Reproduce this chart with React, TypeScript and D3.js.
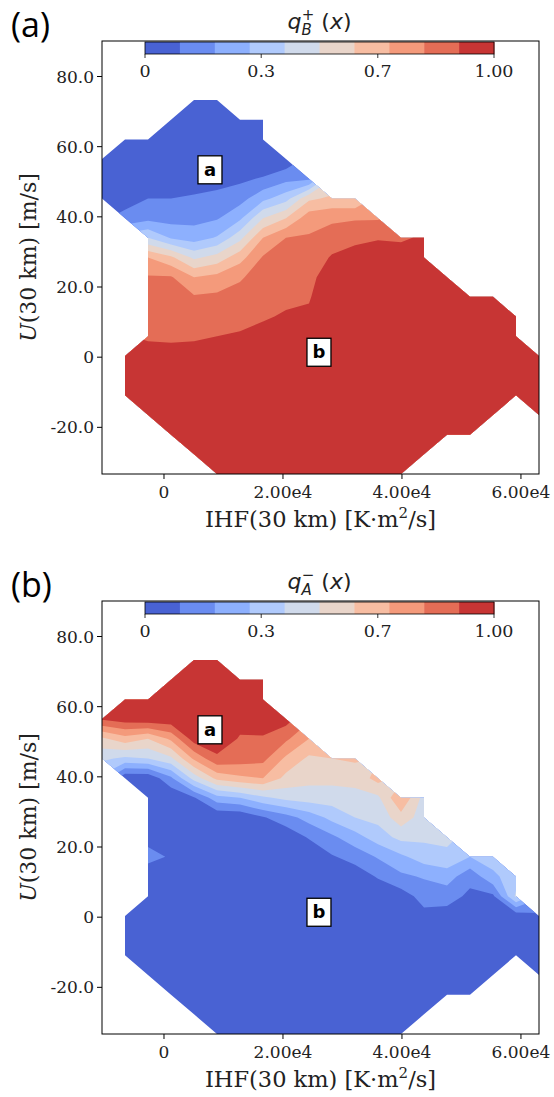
import React from 'react';
import * as d3 from 'd3';

const _ = null;

// IHF(30 km) grid columns [K·m²/s]
const ihf = [-10420, -6554, -2688, 1178, 5044, 8910, 12776, 16642, 20508, 24374, 28240, 32106, 35972, 39838, 43704, 47570, 51436, 55302, 59168, 63034];
// U(30 km) grid rows [m/s], top row first
const uRows = [90.12, 84.51, 78.9, 73.29, 67.68, 62.07, 56.46, 50.85, 45.24, 39.63, 34.02, 28.41, 22.8, 17.19, 11.58, 5.97, 0.36, -5.25, -10.86, -16.47, -22.08, -27.69, -33.3];

// q_B^+(x) on the grid (null = no data), rows top to bottom
const qBplus: (number | null)[][] = [
  [_, _, _, _, _, _, _, _, _, _, _, _, _, _, _, _, _, _, _, _],
  [_, _, _, _, _, _, _, _, _, _, _, _, _, _, _, _, _, _, _, _],
  [_, _, _, _, _, _, _, _, _, _, _, _, _, _, _, _, _, _, _, _],
  [_, _, _, _, .01, .01, _, _, _, _, _, _, _, _, _, _, _, _, _, _],
  [_, _, _, .01, .01, .01, .01, .01, _, _, _, _, _, _, _, _, _, _, _, _],
  [_, .01, .01, .01, .01, .01, .01, .01, _, _, _, _, _, _, _, _, _, _, _, _],
  [.01, .01, .01, .01, .01, .01, .01, .01, .03, _, _, _, _, _, _, _, _, _, _, _],
  [.02, .02, .03, .04, .06, .06, .08, .11, .17, .18, _, _, _, _, _, _, _, _, _, _],
  [.07, .06, .10, .10, .11, .13, .16, .27, .36, .58, .62, .61, _, _, _, _, _, _, _, _],
  [_, .13, .17, .16, .17, .19, .28, .50, .60, .76, .78, .79, .79, _, _, _, _, _, _, _],
  [_, _, .40, .29, .25, .31, .47, .70, .80, .81, .85, .87, .89, .88, .92, _, _, _, _, _],
  [_, _, .70, .62, .48, .54, .66, .81, .83, .84, .91, .95, .97, .97, .97, _, _, _, _, _],
  [_, _, .81, .81, .70, .73, .79, .84, .86, .87, .96, .99, .99, .99, .99, .98, _, _, _, _],
  [_, _, .84, .83, .81, .82, .83, .87, .88, .89, .99, .99, .99, .99, .99, .99, .99, .99, _, _],
  [_, _, .87, .86, .85, .86, .87, .89, .91, .92, .99, .99, .99, .99, .99, .99, .99, .99, .99, _],
  [_, _, .89, .89, .89, .90, .91, .93, .94, .94, .99, .99, .99, .99, .99, .99, .99, .99, .99, _],
  [_, .93, .93, .92, .93, .94, .94, .95, .97, .97, .99, .99, .99, .99, .99, .99, .99, .99, .99, .99],
  [_, .95, .95, .95, .97, .98, .98, .98, .99, .99, .99, .99, .99, .99, .99, .99, .99, .99, .99, .99],
  [_, .98, .98, .98, .99, .99, .99, .99, .99, .99, .99, .99, .99, .99, .99, .99, .99, .99, .99, .99],
  [_, _, .99, .99, .99, .99, .99, .99, .99, .99, .99, .99, .99, .99, .99, .99, .99, .99, _, .99],
  [_, _, _, .99, .99, .99, .99, .99, .99, .99, .99, .99, .99, .99, .99, .99, .99, _, _, _],
  [_, _, _, _, .99, .99, .99, .99, .99, .99, .99, .99, .99, .99, .99, _, _, _, _, _],
  [_, _, _, _, _, .99, .99, .99, .99, .99, .99, .99, .99, .99, _, _, _, _, _, _],
];

// q_A^-(x) on the grid (null = no data), rows top to bottom
const qAminus: (number | null)[][] = [
  [_, _, _, _, _, _, _, _, _, _, _, _, _, _, _, _, _, _, _, _],
  [_, _, _, _, _, _, _, _, _, _, _, _, _, _, _, _, _, _, _, _],
  [_, _, _, _, _, _, _, _, _, _, _, _, _, _, _, _, _, _, _, _],
  [_, _, _, _, .98, .98, _, _, _, _, _, _, _, _, _, _, _, _, _, _],
  [_, _, _, .97, .98, .98, .98, .98, _, _, _, _, _, _, _, _, _, _, _, _],
  [_, .97, .97, .97, .98, .98, .98, .98, _, _, _, _, _, _, _, _, _, _, _, _],
  [.91, .95, .97, .97, .97, .98, .94, .95, .94, _, _, _, _, _, _, _, _, _, _, _],
  [.58, .66, .60, .72, .95, .97, .89, .89, .82, .70, _, _, _, _, _, _, _, _, _, _],
  [.42, .38, .40, .48, .72, .88, .85, .83, .68, .58, .60, .62, _, _, _, _, _, _, _, _],
  [_, .02, .02, .18, .44, .63, .68, .70, .57, .53, .53, .53, .64, _, _, _, _, _, _, _],
  [_, _, .01, .01, .09, .26, .30, .38, .43, .45, .45, .47, .48, .70, .46, _, _, _, _, _],
  [_, _, .01, .01, .01, .01, .01, .09, .16, .24, .33, .40, .43, .56, .45, _, _, _, _, _],
  [_, _, .07, .02, .01, .01, .01, .01, .03, .11, .18, .26, .35, .43, .42, .43, _, _, _, _],
  [_, _, .13, .09, .01, .01, .01, .01, .01, .02, .09, .14, .21, .28, .35, .37, .30, .34, _, _],
  [_, _, .04, .02, .01, .01, .01, .01, .01, .01, .01, .04, .11, .18, .21, .25, .13, .28, .35, _],
  [_, _, .01, .01, .01, .01, .01, .01, .01, .01, .01, .01, .02, .05, .14, .14, .08, .08, .42, _],
  [_, .02, .01, .01, .01, .01, .01, .01, .01, .01, .01, .01, .01, .01, .07, .06, .02, .02, .03, .08],
  [_, .02, .01, .01, .01, .01, .01, .01, .01, .01, .01, .01, .01, .01, .02, .02, .01, .01, .02, .02],
  [_, .01, .01, .01, .01, .01, .01, .01, .01, .01, .01, .01, .01, .01, .01, .01, .01, .01, .01, .01],
  [_, _, .01, .01, .01, .01, .01, .01, .01, .01, .01, .01, .01, .01, .01, .01, .01, .01, _, .01],
  [_, _, _, .01, .01, .01, .01, .01, .01, .01, .01, .01, .01, .01, .01, .01, .01, _, _, _],
  [_, _, _, _, .01, .01, .01, .01, .01, .01, .01, .01, .01, .01, .01, _, _, _, _, _],
  [_, _, _, _, _, .01, .01, .01, .01, .01, .01, .01, .01, .01, _, _, _, _, _, _],
];

const levels = [0, 0.1, 0.2, 0.3, 0.4, 0.5, 0.6, 0.7, 0.8, 0.9, 1.0];
const bandColors = ['#4962d3', '#6a8cf0', '#8db0fe', '#b0cafc', '#d0daeb', '#e9d5ca', '#f7bda2', '#f49a7b', '#e46d56', '#c73534'];

const xTicks = [0, 20000, 40000, 60000];
const xTickLabels = ['0', '2.00e4', '4.00e4', '6.00e4'];
const yTicks = [80, 60, 40, 20, 0, -20];
const yTickLabels = ['80.0', '60.0', '40.0', '20.0', '0', '-20.0'];
const cbTicks = [0, 0.333, 0.667, 1.0];
const cbTickLabels = ['0', '0.3', '0.7', '1.00'];
const markers = [
  { ihf: 7730, u: 53.4, label: 'a' },
  { ihf: 26050, u: 1.4, label: 'b' },
];

const SERIF = '"DejaVu Serif", serif';
const SANS = '"DejaVu Sans", sans-serif';

function fillMasked(grid: (number | null)[][]): number[] {
  const nR = grid.length, nC = grid[0].length;
  let cur = grid.map(row => row.map(v => (v == null ? NaN : v)));
  for (let iter = 0; iter < 200; iter++) {
    let missing = 0;
    const next = cur.map(row => row.slice());
    for (let r = 0; r < nR; r++) {
      for (let c = 0; c < nC; c++) {
        if (!isNaN(cur[r][c])) continue;
        let s = 0, n = 0;
        for (let dr = -1; dr <= 1; dr++) {
          for (let dc = -1; dc <= 1; dc++) {
            const rr = r + dr, cc = c + dc;
            if (rr < 0 || rr >= nR || cc < 0 || cc >= nC) continue;
            const v = cur[rr][cc];
            if (!isNaN(v)) { s += v; n++; }
          }
        }
        if (n) next[r][c] = s / n; else missing++;
      }
    }
    cur = next;
    if (!missing) break;
  }
  return cur.flat();
}

type PanelProps = {
  grid: (number | null)[][];
  top: number;
  letter: string;
  sub: string;
  sup: string;
  id: string;
};

function Panel({ grid, top, letter, sub, sup, id }: PanelProps) {
  const L = 102, R = 539, T = top + 41, B = top + 474;
  const nC = ihf.length, nR = uRows.length;
  const x = d3.scaleLinear().domain([ihf[0], ihf[nC - 1]]).range([L, R]);
  const y = d3.scaleLinear().domain([uRows[nR - 1], uRows[0]]).range([B, T]);
  const colToIhf = d3.scaleLinear().domain([0, nC - 1]).range([ihf[0], ihf[nC - 1]]);
  const rowToU = d3.scaleLinear().domain([0, nR - 1]).range([uRows[0], uRows[nR - 1]]);
  const px = (c: number) => x(colToIhf(c));
  const py = (r: number) => y(rowToU(r));

  const flat = fillMasked(grid);
  const contours = d3.contours().size([nC, nR]).thresholds(levels.slice(1, -1))(flat);
  const proj = d3.geoTransform({
    point(a: number, b: number) {
      (this as any).stream.point(px(a - 0.5), py(b - 0.5));
    },
  });
  const path = d3.geoPath(proj as any);

  // valid region: full quads and corner-cut triangles
  const cells: string[] = [];
  for (let r = 0; r < nR - 1; r++) {
    for (let c = 0; c < nC - 1; c++) {
      const corners = [[c, r], [c + 1, r], [c + 1, r + 1], [c, r + 1]];
      const valid = corners.filter(([cc, rr]) => grid[rr][cc] != null);
      if (valid.length >= 3) {
        cells.push('M' + valid.map(([cc, rr]) => `${px(cc).toFixed(2)},${py(rr).toFixed(2)}`).join('L') + 'Z');
      }
    }
  }
  const clipId = `clip-${id}`;

  const cb = d3.scaleLinear().domain([0, 1]).range([145, 494]);
  const cbTop = top + 42, cbH = 12;

  return (
    <g>
      <defs>
        <clipPath id={clipId}>
          <path d={cells.join('')} />
        </clipPath>
      </defs>
      <text x={11} y={top + 37} fontFamily='"Open Sans", sans-serif' fontSize={34} fill="#000">{`(${letter})`}</text>

      <g clipPath={`url(#${clipId})`}>
        <rect x={L} y={T} width={R - L} height={B - T} fill={bandColors[0]} />
        {contours.map((ct, k) => (
          <path key={k} d={path(ct as any) || ''} fill={bandColors[k + 1]} stroke="none" />
        ))}
      </g>

      <rect x={L} y={T} width={R - L} height={B - T} fill="none" stroke="#000" strokeWidth={1} />

      {yTicks.map((t, k) => (
        <g key={`y${k}`}>
          <line x1={L - 5} x2={L} y1={y(t)} y2={y(t)} stroke="#000" strokeWidth={1} />
          <text x={L - 8} y={y(t)} dy="0.36em" textAnchor="end" fontFamily={SERIF} fontSize={17} fill="#222">{yTickLabels[k]}</text>
        </g>
      ))}
      {xTicks.map((t, k) => (
        <g key={`x${k}`}>
          <line x1={x(t)} x2={x(t)} y1={B} y2={B + 5} stroke="#000" strokeWidth={1} />
          <text x={x(t)} y={B + 24} textAnchor="middle" fontFamily={SERIF} fontSize={17} fill="#222">{xTickLabels[k]}</text>
        </g>
      ))}

      <text x={(L + R) / 2} y={B + 53} textAnchor="middle" fontFamily={SERIF} fontSize={22.5} fill="#222">
        IHF(30 km) [K·m<tspan fontSize={15} dy={-9}>2</tspan><tspan dy={9}>/s]</tspan>
      </text>
      <text transform={`translate(36,${(T + B) / 2}) rotate(-90)`} textAnchor="middle" fontFamily={SERIF} fontSize={22} fill="#222">
        <tspan fontStyle="italic">U</tspan>(30 km) [m/s]
      </text>

      {/* colorbar */}
      {bandColors.map((col, k) => (
        <rect key={`cb${k}`} x={cb(levels[k])} y={cbTop} width={cb(levels[k + 1]) - cb(levels[k]) + 0.5} height={cbH} fill={col} />
      ))}
      <rect x={cb(0)} y={cbTop} width={cb(1) - cb(0)} height={cbH} fill="none" stroke="#000" strokeWidth={0.8} />
      {cbTicks.map((t, k) => (
        <g key={`cbt${k}`}>
          <line x1={cb(t)} x2={cb(t)} y1={cbTop + cbH} y2={cbTop + cbH + 4} stroke="#000" strokeWidth={0.8} />
          <text x={cb(t)} y={cbTop + cbH + 23} textAnchor="middle" fontFamily={SERIF} fontSize={17.5} fill="#222">{cbTickLabels[k]}</text>
        </g>
      ))}
      <text x={(cb(0) + cb(1)) / 2} y={top + 29} textAnchor="middle" fontFamily={SANS} fontSize={22} fill="#222">
        <tspan fontStyle="italic">q</tspan>
        <tspan fontStyle="italic" fontSize={15} dy={6}>{sub}</tspan>
        <tspan fontSize={15} dx={-10} dy={-15}>{sup}</tspan>
        <tspan dy={9}>{' ('}</tspan>
        <tspan fontStyle="italic">x</tspan>
        <tspan>)</tspan>
      </text>

      {markers.map((m, k) => (
        <g key={`m${k}`}>
          <rect x={x(m.ihf) - 12} y={y(m.u) - 14} width={24} height={28} fill="#fff" stroke="#000" strokeWidth={1.3} />
          <text x={x(m.ihf)} y={y(m.u) + 6} textAnchor="middle" fontFamily={SANS} fontWeight="bold" fontSize={18} fill="#000">{m.label}</text>
        </g>
      ))}
    </g>
  );
}

export default function App() {
  return (
    <svg width={554} height={1097} style={{ position: 'absolute', left: 0, top: 0, background: '#fff' }}>
      <rect x={0} y={0} width={554} height={1097} fill="#fff" />
      <Panel grid={qBplus} top={0} letter="a" sub="B" sup="+" id="a" />
      <Panel grid={qAminus} top={560} letter="b" sub="A" sup="−" id="b" />
    </svg>
  );
}
